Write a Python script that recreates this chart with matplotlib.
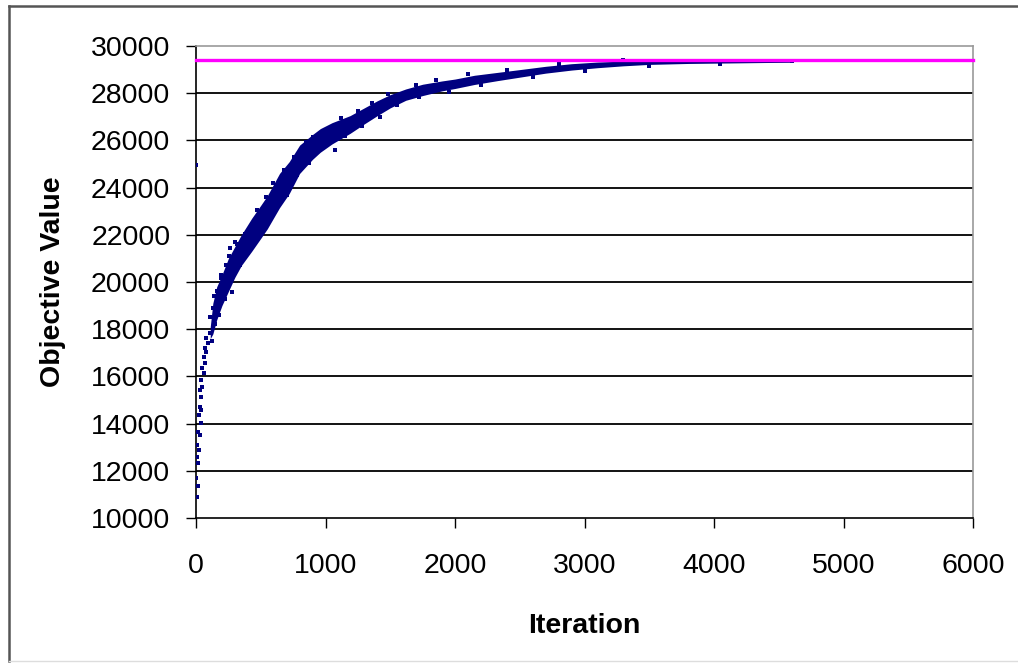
import matplotlib
matplotlib.use("Agg")
import matplotlib.pyplot as plt
from matplotlib.lines import Line2D

# --- data ---
# early, sparse iterations (individual points)
sparse_iter = [0, 5, 18, 0, 18, 10, 23, 5, 30, 18, 36, 23, 40, 30, 40, 30, 48, 40,
               58, 48, 66, 58, 80, 66, 92, 74, 105, 130, 110, 120, 135, 150, 165,
               180, 195, 210, 230, 240, 255, 285, 300, 330]
sparse_val = [24960, 10900, 11360, 11700, 12330, 12600, 12880, 13090, 13500, 13660,
              14030, 14360, 14580, 14720, 15140, 15420, 15560, 15850, 16140, 16350,
              16570, 16830, 17050, 17200, 17410, 17630, 17840, 18110, 18500, 17500,
              18900, 18200, 19600, 19000, 20300, 19400, 20700, 19800, 21100, 20300,
              21700, 20800]

# dense part of the cloud: lower / upper edge of the point band
band_iter = [110, 130, 160, 200, 250, 300, 350, 430, 500, 550, 645, 720, 800, 900,
             960, 1050, 1190, 1300, 1400, 1500, 1620, 1750, 1900, 2000, 2150, 2325,
             2500, 2700, 2900, 3100, 3300, 3500, 3800, 4100, 4400, 4600]
band_low = [17600, 17800, 18400, 19000, 19600, 20200, 20700, 21300, 21850, 22250,
            23150, 23750, 24600, 25200, 25500, 25850, 26300, 26700, 27050, 27380,
            27700, 27900, 28100, 28200, 28370, 28530, 28680, 28850, 28980, 29080,
            29160, 29220, 29260, 29280, 29300, 29310]
band_high = [18100, 19100, 19800, 20300, 21000, 21500, 22000, 22700, 23250, 23650,
             24600, 25100, 25800, 26250, 26500, 26750, 27050, 27380, 27680, 27940,
             28180, 28380, 28520, 28600, 28760, 28880, 29000, 29140, 29250, 29320,
             29360, 29380, 29390, 29390, 29390, 29390]

# stray points along the edges of the band
edge_iter = [140, 175, 190, 225, 262, 275, 320, 340, 380, 410, 470, 494, 540, 595,
             610, 680, 700, 760, 780, 850, 870, 905, 1000, 1073, 1120, 1150, 1250,
             1280, 1360, 1420, 1480, 1550, 1700, 1720, 1850, 1950, 2100, 2200, 2400,
             2600, 2800, 3000, 3300, 3500, 4050, 4600]
edge_val = [19400, 18600, 20150, 19300, 21440, 19590, 21600, 20700, 22050, 21300,
            23050, 22000, 23600, 24200, 23050, 24750, 23700, 25300, 24550, 25950,
            25050, 26160, 25800, 25600, 26950, 26200, 27250, 26600, 27600, 27000,
            27950, 27500, 28350, 27850, 28550, 28050, 28800, 28350, 29000, 28700,
            29220, 28950, 29400, 29170, 29250, 29380]

target_value = 29400

x_ticks = [0, 1000, 2000, 3000, 4000, 5000, 6000]
y_ticks = [10000, 12000, 14000, 16000, 18000, 20000, 22000, 24000, 26000, 28000, 30000]

NAVY = "#000080"
MAGENTA = "#FF00FF"

plt.rcParams.update({
    "font.family": ["Liberation Sans", "DejaVu Sans"],
    "font.size": 20.5,
})

fig = plt.figure(figsize=(10.18, 6.63), dpi=100)
ax = fig.add_axes([196 / 1018, 1 - 518 / 663, 777 / 1018, 472 / 663])

# black horizontal gridlines (top one is the grey plot border)
for v in y_ticks[1:-1]:
    ax.axhline(v, color="black", lw=1.3, zorder=1)

ax.fill_between(band_iter, band_low, band_high, color=NAVY, lw=0, zorder=2)
ax.scatter(sparse_iter, sparse_val, s=10, marker="s", color=NAVY, lw=0, zorder=3)
ax.scatter(edge_iter, edge_val, s=10, marker="s", color=NAVY, lw=0, zorder=3)
ax.axhline(target_value, color=MAGENTA, lw=2.4, zorder=4, clip_on=False)

ax.set_xlim(0, 6000)
ax.set_ylim(10000, 30000)
ax.set_xticks(x_ticks)
ax.set_yticks(y_ticks)
ax.tick_params(direction="out", length=7.5, width=1, color="black", labelsize=20.5)
ax.tick_params(axis="x", pad=18)
ax.tick_params(axis="y", pad=11)

for side in ("left", "bottom"):
    ax.spines[side].set_color("black")
    ax.spines[side].set_linewidth(1.2)
for side in ("top", "right"):
    ax.spines[side].set_color("#999999")
    ax.spines[side].set_linewidth(1.2)

ax.set_xlabel("Iteration", fontweight="bold", fontsize=20.5, labelpad=24)
ax.set_ylabel("Objective Value", fontweight="bold", fontsize=20.5, labelpad=18)

# outer chart frame
fig.add_artist(Line2D([8.5 / 1018, 8.5 / 1018], [1 - 5.5 / 663, 1 - 661 / 663],
                      transform=fig.transFigure, color="#555555", lw=1.8))
fig.add_artist(Line2D([8.5 / 1018, 1.0], [1 - 5.5 / 663, 1 - 5.5 / 663],
                      transform=fig.transFigure, color="#555555", lw=1.8))
fig.add_artist(Line2D([8.5 / 1018, 1.0], [1 - 661 / 663, 1 - 661 / 663],
                      transform=fig.transFigure, color="#dddddd", lw=1.0))

fig.savefig("out.png", dpi=100)
